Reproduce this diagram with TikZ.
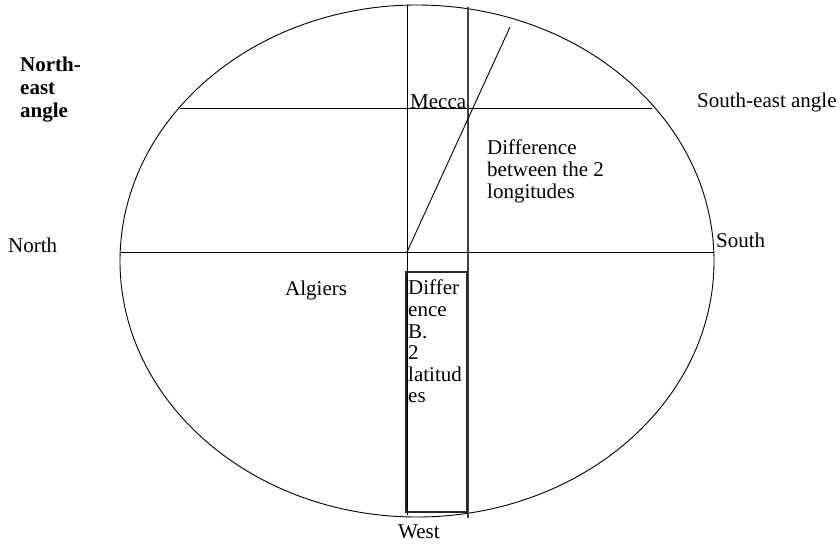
\documentclass[tikz,border=0pt]{standalone}
\usepackage{fontspec}
\setmainfont{Liberation Serif}
\begin{document}
\begin{tikzpicture}[x=1pt,y=-1pt,
  txt/.style={inner sep=0pt,anchor=base west,align=left,font=\fontsize{21}{21.6}\selectfont},
  block/.style={txt,anchor=north west},
  boldtxt/.style={block,font=\fontsize{21}{23}\selectfont\bfseries},
  rule/.style={line width=0.9pt}]
\useasboundingbox (0,0) rectangle (840,544);

% the dial
\draw[rule] (417,261) ellipse [x radius=297,y radius=256];

\coordinate (n) at (120,252);
\coordinate (s) at (714,252);
\coordinate (nea) at (180,108);
\coordinate (sea) at (652,108);
\coordinate (top1) at (407,5);
\coordinate (bot1) at (407,515);
\coordinate (top2) at (468,7);
\coordinate (bot2) at (468,518);
\coordinate (alg) at (407,252);
\coordinate (mec) at (510,27);

\draw[rule] (n) -- (s);
\draw[rule] (nea) -- (sea);
\draw[rule] (top1) -- (bot1);
\draw[rule,black!75,line width=1.4pt] (top2) -- (bot2);
\draw[rule] (alg) -- (mec);
\draw[line width=1.6pt,black!85] (406,272) rectangle (467,512);

% labels
\node[boldtxt] (ne) at (20,57) {North-\\east\\angle};
\node[txt] (se) at (697,107) {South-east angle};
\node[txt] (mecca) at (410,108) {Mecca};
\node[block] (dlong) at (487,140) {Difference\\between the 2\\longitudes};
\node[txt] (north) at (8,252) {North};
\node[txt] (south) at (716,247) {South};
\node[txt] (algiers) at (285,295) {Algiers};
\node[block] (dlat) at (408,280) {Differ\\ence\\B.\\2\\latitud\\es};
\node[txt] (west) at (398,538) {West};
\end{tikzpicture}
\end{document}
